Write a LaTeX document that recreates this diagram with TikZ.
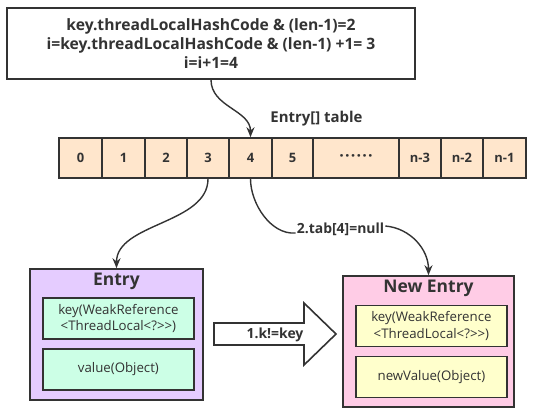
\documentclass[tikz,border=0pt]{standalone}
\usepackage{fontspec}
\setmainfont{Open Sans}
\usetikzlibrary{arrows.meta}
\definecolor{ink}{HTML}{333333}
\definecolor{peach}{HTML}{FFE6CC}
\definecolor{lilac}{HTML}{E5CCFF}
\definecolor{mint}{HTML}{CCFFE6}
\definecolor{pinkbg}{HTML}{FFCCE6}
\definecolor{lemon}{HTML}{FFFFCC}
\tikzset{
  box/.style={draw=ink, line width=1.6bp, inner sep=0pt, text=ink, align=center},
  cell/.style={box, fill=peach, minimum height=40bp, font=\fontsize{13}{14}\selectfont\bfseries},
  inner/.style={box, minimum width=151bp, minimum height=41bp, font=\fontsize{13.3}{16.5}\selectfont},
  conn/.style={draw=ink, line width=1.4bp, -{Stealth[length=10bp,width=8bp]}},
  lbl/.style={text=ink, inner sep=1bp, font=\fontsize{14}{16}\selectfont\bfseries},
  title/.style={text=ink, inner sep=0pt, font=\fontsize{17.5}{20}\selectfont\bfseries}
}
\begin{document}
\begin{tikzpicture}[x=1bp,y=-1bp]
\useasboundingbox (0,0) rectangle (535,415);
% top box
\node[box, minimum width=408bp, minimum height=71bp, fill=white,
      font=\fontsize{15.7}{19}\selectfont\bfseries] (top) at (211,43.5)
  {key.threadLocalHashCode \& (len-1)=2\\i=key.threadLocalHashCode \& (len-1) +1= 3\\i=i+1=4};
% table
\node[cell, minimum width=43bp] (c0) at (80.5,158) {0};
\node[cell, minimum width=43bp] (c1) at (123.5,158) {1};
\node[cell, minimum width=42bp] (c2) at (166,158) {2};
\node[cell, minimum width=42bp] (c3) at (208,158) {3};
\node[cell, minimum width=43bp] (c4) at (250.5,158) {4};
\node[cell, minimum width=41bp] (c5) at (292.5,158) {5};
\node[cell, minimum width=86bp] (c6) at (356,158) {\fontsize{16}{14}\selectfont ·\hspace{1.2bp}·\hspace{1.2bp}·\hspace{1.2bp}·\hspace{1.2bp}·\hspace{1.2bp}·};
\node[cell, minimum width=42bp] (c7) at (420,158) {n-3};
\node[cell, minimum width=42bp] (c8) at (462,158) {n-2};
\node[cell, minimum width=43bp] (c9) at (504.5,158) {n-1};
\node[lbl, font=\fontsize{15}{17}\selectfont\bfseries] (tlabel) at (316.5,119) {Entry[] table};
% Entry
\node[box, fill=lilac, minimum width=173bp, minimum height=131bp] (entry) at (116.5,334.5) {};
\node[title] (etitle) at (116.5,281) {Entry};
\node[inner, fill=mint] (ekey) at (118.4,318.5) {key(WeakReference\\<ThreadLocal<?>{}>)};
\node[inner, fill=mint] (eval) at (118.4,369.5) {value(Object)};
% New Entry
\node[box, fill=pinkbg, minimum width=171bp, minimum height=131bp] (nentry) at (428.5,341.5) {};
\node[title] (ntitle) at (428.5,288) {New Entry};
\node[inner, fill=lemon] (nkey) at (431.4,326) {key(WeakReference\\<ThreadLocal<?>{}>)};
\node[inner, fill=lemon] (nval) at (431.4,377) {newValue(Object)};
% block arrow
\draw[draw=ink, line width=1.6bp, fill=white, line join=miter]
  (214,323) -- (304,323) -- (304,303) -- (336,334) -- (304,365) -- (304,345) -- (214,345) -- cycle;
\node[lbl] (klabel) at (275,334.5) {1.k!=key};
% connectors
\draw[conn] (top.south) to[out=-90, in=90, looseness=1] (c4.north);
\draw[conn] (c3.south) to[out=-90, in=90, looseness=0.9] (entry.north);
\node[lbl, fill=white] (nlabel) at (340.5,229) {2.tab[4]=null};
\draw[draw=ink, line width=1.4bp] (c4.south) to[out=-90, in=185, looseness=0.9] ([yshift=-4bp]nlabel.west);
\draw[conn] ([yshift=3bp]nlabel.east) to[out=-5, in=90, looseness=1] (nentry.north);
\end{tikzpicture}
\end{document}
